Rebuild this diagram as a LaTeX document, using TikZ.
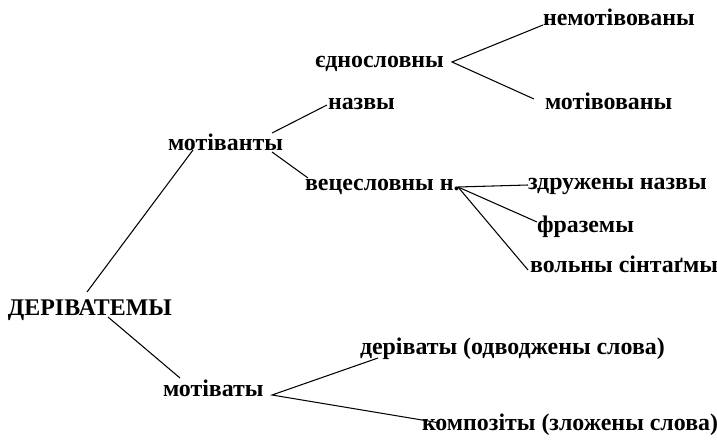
\documentclass[tikz,border=0pt]{standalone}
\usepackage{fontspec}
\setmainfont{Liberation Serif}[BoldFont={Liberation Serif Bold}]
\usetikzlibrary{calc}

\tikzset{
    term/.style={inner sep=0pt, outer sep=0pt, anchor=base west, font=\bfseries\fontsize{13.6}{16}\selectfont},
    branch/.style={line width=0.6pt}
}

\begin{document}
\begin{tikzpicture}[x=0.02cm, y=-0.02cm]
        \useasboundingbox (0,0) rectangle (717,442);
        % root and first level
        \node[term] (der) at (8,316) {ДЕРІВАТЕМЫ};
        \node[term] (motv) at (168,151) {мотіванты};
        \node[term] (mota) at (163,397) {мотіваты};
        % second level
        \node[term] (nazvy) at (328,110) {назвы};
        \node[term] (vec) at (305,191) {вецесловны н.};
        \node[term] (edn) at (315,68) {єднословны};
        \node[term] (nemot) at (543,26) {немотівованы};
        \node[term] (motiv) at (545,110) {мотівованы};
        \node[term] (zdr) at (528,190) {здружены назвы};
        \node[term] (fraz) at (537,233) {фраземы};
        \node[term] (voln) at (530,273) {вольны сінтаґмы};
        \node[term] (deriv) at (360,355) {деріваты (одводжены слова)};
        \node[term] (komp) at (422,430) {композіты (зложены слова)};

        \draw[branch] ($(der.base west)+(79,-24)$) -- ($(motv.base west)+(25,-1)$);
        \draw[branch] ($(der.base west)+(100,1)$) -- ($(mota.base west)+(17,-19)$);
        \draw[branch] ($(motv.base west)+(104,-18)$) -- ($(nazvy.base west)+(-1,-5)$);
        \draw[branch] ($(motv.base west)+(104,1)$) -- ($(vec.base west)+(3,-13)$);
        \draw[branch] ($(nemot.base west)+(0,-1)$) -- ($(edn.base west)+(137,-6)$) -- ($(motiv.base west)+(-11,-11)$);
        \draw[branch] ($(vec.base west)+(153,-4)$) -- ($(zdr.base west)+(0,-5)$);
        \draw[branch] ($(vec.base west)+(153,-4)$) -- ($(fraz.base west)+(0,-11)$);
        \draw[branch] ($(vec.base west)+(153,-4)$) -- ($(voln.base west)+(-2,-3)$);
        \draw[branch] ($(deriv.base west)+(18,3)$) -- ($(mota.base west)+(109,-2)$) -- ($(komp.base west)+(18,-7)$);
    \end{tikzpicture}
\end{document}
